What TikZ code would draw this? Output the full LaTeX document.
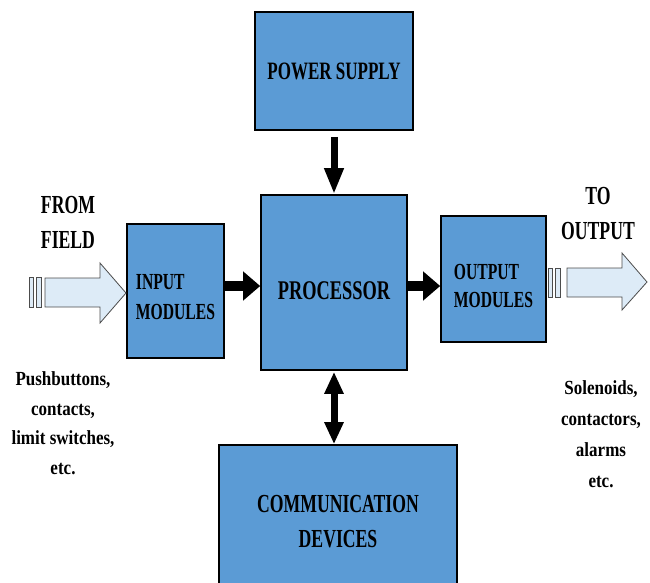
\documentclass[tikz,border=0pt]{standalone}
\usepackage{fontspec}
\setmainfont{Liberation Serif}[FakeStretch=0.68]
\newfontfamily\notefont{Liberation Serif}[FakeStretch=0.85]
\usepackage{xcolor}
\usepackage{tikz}
\usetikzlibrary{arrows.meta,positioning,calc}

\definecolor{boxblue}{RGB}{91,155,213}
\definecolor{arrowfill}{RGB}{221,235,247}

\begin{document}
\begin{tikzpicture}[x=1pt,y=-1pt,
  block/.style={draw=black,line width=1.6pt,fill=boxblue,align=center,inner sep=0pt,
    font=\bfseries\fontsize{25}{30}\selectfont},
  vlink/.style={line width=7pt,-{Triangle[length=26pt,width=18pt]}},
  dlink/.style={line width=7pt,{Triangle[length=22pt,width=18pt]}-{Triangle[length=22pt,width=18pt]}},
  hlink/.style={line width=10pt,-{Triangle[length=17pt,width=28pt]}},
  hollow/.style={draw=black!70,line width=0.8pt,fill=arrowfill},
  side/.style={align=center,font=\bfseries\fontsize{26}{35}\selectfont},
  note/.style={align=center,font=\notefont\bfseries\fontsize{20}{29.5}\selectfont}]
  \useasboundingbox (0,0) rectangle (650,582);
  % blocks
  \node[block,minimum width=158pt,minimum height=118pt] (psu) at (334,71) {POWER SUPPLY};
  \node[block,minimum width=146pt,minimum height=175pt,text height=34pt,text depth=0pt,
    font=\bfseries\fontsize{27}{30}\selectfont] (proc) at (334,282.5) {PROCESSOR};
  \node[block,minimum width=97pt,minimum height=134pt,align=left,text height=57pt,text depth=0pt,
    font=\bfseries\fontsize{23}{30}\selectfont] (inp) at (175.5,291) {INPUT\\MODULES};
  \node[block,minimum width=105pt,minimum height=126pt,align=left,text height=57pt,text depth=0pt,
    font=\bfseries\fontsize{23}{28}\selectfont] (outp) at (493.5,279) {OUTPUT\\MODULES};
  \node[block,minimum width=238pt,minimum height=154pt,font=\bfseries\fontsize{26}{35}\selectfont] (comm) at (338,522) {COMMUNICATION\\DEVICES};
  % links
  \coordinate (rowa) at (0,286);
  \draw[vlink,shorten <=6pt] (psu.south) -- (proc.north);
  \draw[dlink,shorten <=1pt] (proc.south) -- (proc.south |- comm.north);
  \draw[hlink] (inp.east |- rowa) -- (proc.west |- rowa);
  \draw[hlink] (proc.east |- rowa) -- (outp.west |- rowa);
  % field side
  \draw[hollow] (29,277) rectangle (33,307);
  \draw[hollow] (36,277) rectangle (41,307);
  \draw[hollow] (45,278) -- (100,278) -- (100,263) -- (126,293) -- (100,323) -- (100,307) -- (45,307) -- cycle;
  \node[side] (from) at (68,222) {FROM\\FIELD};
  \node[note] (ins) at (63,423) {Pushbuttons,\\contacts,\\limit switches,\\etc.};
  % output side
  \draw[hollow] (548,268) rectangle (552,297);
  \draw[hollow] (555,268) rectangle (560,297);
  \draw[hollow] (567,268) -- (622,268) -- (622,253) -- (647,282) -- (622,310) -- (622,297) -- (567,297) -- cycle;
  \node[side] (to) at (598,214) {TO\\OUTPUT};
  \node[note,font=\notefont\bfseries\fontsize{20}{31}\selectfont] (outs) at (601,434) {Solenoids,\\contactors,\\alarms\\etc.};
\end{tikzpicture}
\end{document}
